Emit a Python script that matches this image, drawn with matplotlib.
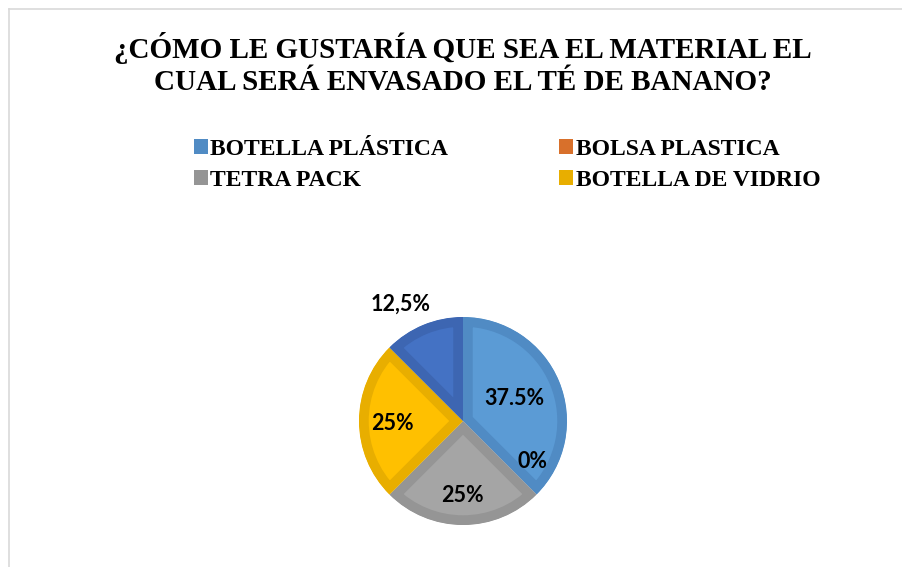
import matplotlib.pyplot as plt
from matplotlib.patches import Patch
from matplotlib.lines import Line2D

# data
categories = ['BOTELLA PLÁSTICA', 'BOLSA PLASTICA', 'TETRA PACK', 'BOTELLA DE VIDRIO', '']
values = [37.5, 0, 25, 25, 12.5]
pct_labels = ['37.5%', '0%', '25%', '25%', '12,5%']
fill_colors = ['#5B9BD5', '#ED7D31', '#A5A5A5', '#FFC000', '#4472C4']
edge_colors = ['#508BC4', '#D8702B', '#959595', '#E8AE00', '#3D66B2']
# label offsets relative to pie centre, in radius units
label_dx = [0.49, 0.67, -0.01, -0.68, -0.60]
label_dy = [0.22, -0.39, -0.72, -0.02, 1.12]

title = '¿CÓMO LE GUSTARÍA QUE SEA EL MATERIAL EL\nCUAL SERÁ ENVASADO EL TÉ DE BANANO?'

W, H = 903, 567
fig = plt.figure(figsize=(W / 100, H / 100), dpi=100)
ax = fig.add_axes([0, 0, 1, 1])

cx, cy, r = 463, H - 421, 104
wedges, _ = ax.pie(values, colors=fill_colors, startangle=90, counterclock=False,
                   center=(cx, cy), radius=r, frame=True)
for w, ec, v in zip(wedges, edge_colors, values):
    w.set_edgecolor(ec)
    w.set_linewidth(14 if v > 0 else 0)
    w.set_clip_on(True)
    w.set_clip_path(w)
ax.set_xlim(0, W)
ax.set_ylim(0, H)
ax.set_aspect('equal')
ax.axis('off')

for lab, dx, dy in zip(pct_labels, label_dx, label_dy):
    ax.text(cx + dx * r, cy + dy * r, lab, ha='center', va='center',
            fontsize=15.5, fontweight='bold', family='Lato', color='black')

fig.text(0.513, 1 - 64 / H, title, ha='center', va='center', fontsize=21,
         fontweight='bold', family='Liberation Serif', linespacing=1.22)

# legend fills row by row in the reference
order = [0, 2, 1, 3]
handles = [Patch(facecolor=edge_colors[i], edgecolor='none') for i in order]
labels = [categories[i] for i in order]
fig.legend(handles, labels, ncol=2, loc='center',
           bbox_to_anchor=(507 / W, 1 - 165 / H), frameon=False,
           prop={'family': 'Liberation Serif', 'weight': 'bold', 'size': 17},
           handlelength=0.6, handleheight=0.6, handletextpad=0.1,
           columnspacing=4.7, labelspacing=0.42)

# chart area frame (partially visible)
fig.add_artist(Line2D([8.5 / W, 8.5 / W], [0, 1 - 9 / H], color='#D9D9D9', lw=1.2))
fig.add_artist(Line2D([8.5 / W, 1], [1 - 9 / H, 1 - 9 / H], color='#D9D9D9', lw=1.2))

fig.savefig('out.png', dpi=100)
